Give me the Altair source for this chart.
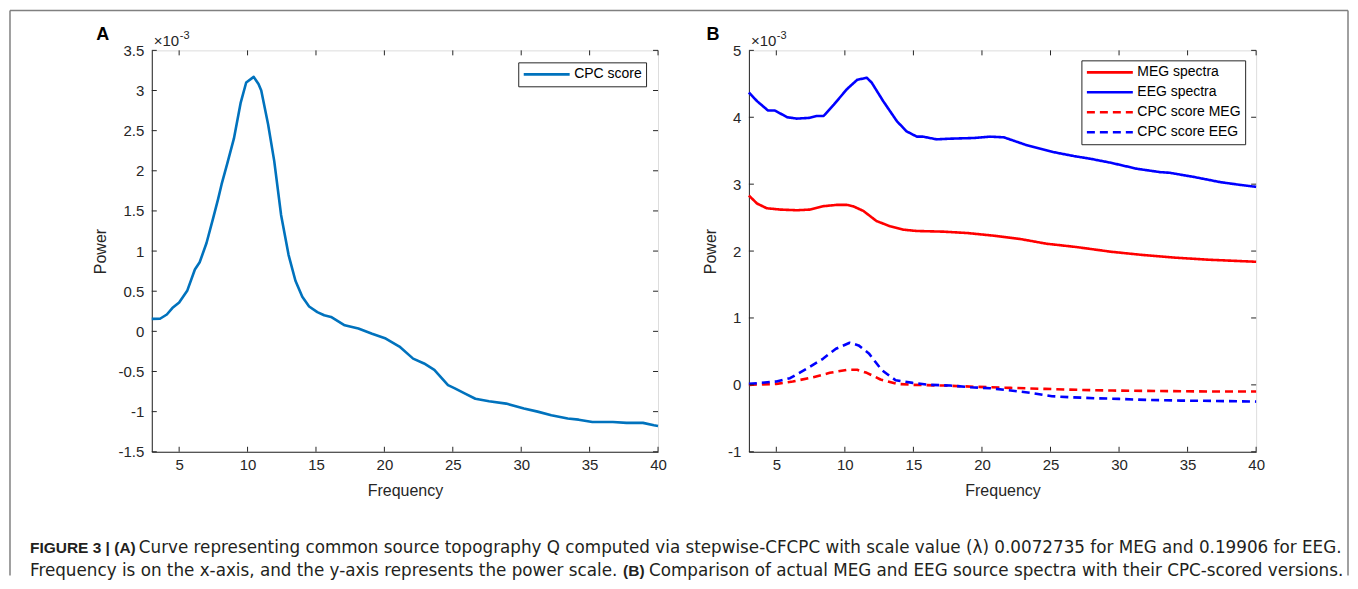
import altair as alt
import pandas as pd

# ---------------- data (values shown in units of 1e-3) ----------------
freq_a = [3.0, 3.6, 4.1, 4.5, 5.0, 5.6, 6.15, 6.5, 7.0, 7.5, 7.85, 8.1, 8.5, 9.0, 9.5,
          9.9, 10.45, 10.8, 11.0, 11.5, 11.95, 12.45, 13.0, 13.5, 14.0, 14.5, 15.1,
          15.6, 16.1, 17.1, 18.1, 19.1, 20.1, 21.1, 22.1, 22.9, 23.65, 24.65, 25.15,
          25.9, 26.65, 27.65, 28.9, 30.2, 31.2, 32.2, 33.4, 34.2, 35.2, 36.7, 37.7,
          38.9, 39.7, 40.0]
cpc_a = [0.155, 0.157, 0.21, 0.29, 0.36, 0.51, 0.77, 0.86, 1.1, 1.42, 1.65, 1.83, 2.08,
         2.4, 2.85, 3.1, 3.17, 3.08, 3.0, 2.58, 2.12, 1.45, 0.95, 0.63, 0.43, 0.31, 0.24,
         0.2, 0.18, 0.075, 0.035, -0.03, -0.09, -0.19, -0.34, -0.4, -0.48, -0.67, -0.71,
         -0.775, -0.84, -0.87, -0.9, -0.96, -1.0, -1.045, -1.085, -1.1, -1.13, -1.13,
         -1.14, -1.14, -1.17, -1.18]

freq_meg = [3.0, 3.6, 4.3, 5.3, 6.5, 7.45, 8.4, 9.4, 10.15, 10.6, 11.35, 12.3, 13.3,
            14.25, 15.25, 17.2, 18.9, 20.85, 22.8, 24.7, 26.9, 29.4, 31.8, 34.2, 36.6, 40.0]
meg_spectra = [2.83, 2.71, 2.64, 2.62, 2.61, 2.62, 2.67, 2.69, 2.69, 2.67, 2.6, 2.45, 2.37,
               2.32, 2.3, 2.29, 2.27, 2.23, 2.18, 2.11, 2.06, 1.99, 1.94, 1.9, 1.87, 1.84]

freq_eeg = [3.0, 3.6, 4.4, 4.9, 5.8, 6.5, 7.35, 7.95, 8.45, 9.2, 10.15, 10.9, 11.6, 11.95,
            12.8, 13.8, 14.5, 15.25, 15.7, 16.7, 17.7, 19.4, 20.6, 21.6, 23.3, 25.2, 26.7,
            27.9, 29.4, 31.3, 33.0, 33.7, 35.4, 37.4, 38.8, 40.0]
eeg_spectra = [4.37, 4.24, 4.1, 4.1, 4.0, 3.98, 3.99, 4.02, 4.02, 4.19, 4.42, 4.56, 4.59,
               4.52, 4.24, 3.94, 3.79, 3.71, 3.71, 3.67, 3.68, 3.69, 3.71, 3.7, 3.58, 3.48,
               3.42, 3.38, 3.32, 3.23, 3.18, 3.17, 3.11, 3.03, 2.99, 2.96]

freq_cpc_meg = [3.0, 5.0, 6.2, 7.7, 8.9, 10.15, 10.9, 11.6, 12.6, 13.8, 15.0, 17.2, 19.7,
                22.1, 24.6, 27.1, 29.5, 32.0, 34.5, 36.9, 40.0]
cpc_meg = [0.0, 0.015, 0.05, 0.115, 0.18, 0.225, 0.225, 0.18, 0.08, 0.015, 0.0, -0.01,
           -0.03, -0.045, -0.06, -0.075, -0.085, -0.09, -0.095, -0.1, -0.1]

freq_cpc_eeg = [3.0, 5.0, 6.0, 7.2, 8.4, 9.35, 10.35, 11.0, 11.75, 12.7, 13.7, 14.95, 16.2,
                17.7, 19.15, 20.6, 22.1, 23.6, 25.1, 26.5, 28.3, 30.0, 32.0, 34.5, 36.9, 40.0]
cpc_eeg = [0.015, 0.05, 0.1, 0.24, 0.39, 0.54, 0.63, 0.59, 0.47, 0.22, 0.07, 0.03, 0.0,
           -0.01, -0.035, -0.05, -0.085, -0.12, -0.17, -0.185, -0.2, -0.21, -0.225, -0.235,
           -0.24, -0.25]

series_b = ["MEG spectra", "EEG spectra", "CPC score MEG", "CPC score EEG"]
colors_b = ["#FF0000", "#0000FF", "#FF0000", "#0000FF"]
dashes_b = [[1, 0], [1, 0], [8, 5], [8, 5]]

x_ticks = [5, 10, 15, 20, 25, 30, 35, 40]
y_ticks_a = [-1.5, -1, -0.5, 0, 0.5, 1, 1.5, 2, 2.5, 3, 3.5]
y_ticks_b = [-1, 0, 1, 2, 3, 4, 5]

caption_1_bold = ["FIGURE 3 | (A)"]
caption_1 = ["Curve representing common source topography Q computed via stepwise-CFCPC "
             "with scale value (\u03bb) 0.0072735 for MEG and 0.19906 for EEG."]
caption_2a = ["Frequency is on the x-axis, and the y-axis represents the power scale."]
caption_2_bold = ["(B)"]
caption_2b = ["Comparison of actual MEG and EEG source spectra with their CPC-scored versions."]

# ---------------- style ----------------
FONT = "Liberation Sans"
CAPFONT = "DejaVu Sans"
AX = "#262626"
WA, HA = 507, 402
WB, HB = 508, 402
TICK = 5


def text_layer(values, x, y, size, weight="normal", align="left", baseline="alphabetic",
               color=AX, font=FONT):
    d = pd.DataFrame({"label": values})
    return alt.Chart(d).mark_text(font=font, fontSize=size, fontWeight=weight, align=align,
                                  baseline=baseline, color=color).encode(
        text="label:N", x=alt.value(x), y=alt.value(y))


def panel(df, y_domain, y_ticks, w, h, color_enc, dash_enc, label, label_x, title_pad):
    xs = alt.Scale(domain=[3, 40], nice=False, zero=False)
    ys = alt.Scale(domain=y_domain, nice=False, zero=False)
    x_axis = alt.Axis(values=x_ticks, ticks=False, tickSize=0, grid=False, domainColor=AX,
                      labelFont=FONT, labelFontSize=15, labelColor=AX, labelPadding=6,
                      labelFlush=False, title="Frequency", titleFont=FONT, titleFontSize=16,
                      titleFontWeight="normal", titleColor=AX, titlePadding=10)
    y_axis = alt.Axis(values=y_ticks, ticks=False, tickSize=0, grid=False, domainColor=AX,
                      labelFont=FONT, labelFontSize=15, labelColor=AX, labelPadding=8,
                      labelExpr="datum.value + ''",
                      title="Power", titleFont=FONT, titleFontSize=16,
                      titleFontWeight="normal", titleColor=AX, titlePadding=title_pad)
    enc = dict(x=alt.X("Frequency:Q", scale=xs, axis=x_axis),
               y=alt.Y("Power:Q", scale=ys, axis=y_axis),
               color=color_enc)
    if dash_enc is not None:
        enc["strokeDash"] = dash_enc
    lines = alt.Chart(df).mark_line(strokeWidth=2.6, strokeJoin="round").encode(**enc)

    xt = pd.DataFrame({"Frequency": x_ticks})
    yt = pd.DataFrame({"Power": y_ticks})
    xtick_bot = alt.Chart(xt).mark_rule(color=AX, strokeWidth=1).encode(
        x=alt.X("Frequency:Q", scale=xs, axis=x_axis), y=alt.value(h), y2=alt.value(h - TICK))
    xtick_top = alt.Chart(xt).mark_rule(color=AX, strokeWidth=1).encode(
        x=alt.X("Frequency:Q", scale=xs, axis=x_axis), y=alt.value(0), y2=alt.value(TICK))
    ytick_l = alt.Chart(yt).mark_rule(color=AX, strokeWidth=1).encode(
        y=alt.Y("Power:Q", scale=ys, axis=y_axis), x=alt.value(0), x2=alt.value(TICK))
    ytick_r = alt.Chart(yt).mark_rule(color=AX, strokeWidth=1).encode(
        y=alt.Y("Power:Q", scale=ys, axis=y_axis), x=alt.value(w), x2=alt.value(w - TICK))

    exp1 = text_layer(["\u00d710"], 2, -4, 15)
    exp2 = text_layer(["-3"], 28, -11, 11)
    lab = text_layer([label], label_x, -15, 18, weight="bold",
                     align="center", baseline="middle", color="black")
    return [lines, xtick_bot, xtick_top, ytick_l, ytick_r, exp1, exp2, lab]


leg_common = dict(title=None, orient="none", symbolType="stroke", symbolStrokeWidth=2.6,
                  symbolSize=2116, labelFont=FONT, labelFontSize=14, labelColor="black",
                  strokeColor=AX, fillColor="white", padding=4, labelOffset=3,
                  clipHeight=16, rowPadding=4)

# Panel A
df_a = pd.DataFrame({"Frequency": freq_a, "Power": cpc_a, "series": "CPC score"})
color_a = alt.Color("series:N", scale=alt.Scale(domain=["CPC score"], range=["#0072BD"]),
                    legend=alt.Legend(legendX=367, legendY=12, **leg_common))
layers_a = panel(df_a, [-1.5, 3.5], y_ticks_a, WA, HA, color_a, None, "A", -49, 10)

# frame and caption, positioned relative to panel A's plot area
frame_df = pd.DataFrame({"k": [0]})
FRAME = "#808080"
FR_L, FR_T, FR_R, FR_B = -142, -40, 1198, 526
frame_left = alt.Chart(frame_df).mark_rule(color=FRAME, strokeWidth=1.5).encode(
    x=alt.value(FR_L), x2=alt.value(FR_L), y=alt.value(FR_T), y2=alt.value(FR_B))
frame_top = alt.Chart(frame_df).mark_rule(color=FRAME, strokeWidth=1.5).encode(
    x=alt.value(FR_L), x2=alt.value(FR_R), y=alt.value(FR_T), y2=alt.value(FR_T))
frame_right = alt.Chart(frame_df).mark_rule(color=FRAME, strokeWidth=1.5).encode(
    x=alt.value(FR_R), x2=alt.value(FR_R), y=alt.value(FR_T), y2=alt.value(FR_B))

CAP = "#231f20"
cap = [
    text_layer(caption_1_bold, -122, 503, 15.5, weight="bold", color=CAP),
    text_layer(caption_1, -13, 503, 16.8, color=CAP, font=CAPFONT),
    text_layer(caption_2a, -122, 526, 16.8, color=CAP, font=CAPFONT),
    text_layer(caption_2_bold, 472, 526, 15.5, weight="bold", color=CAP),
    text_layer(caption_2b, 498, 526, 16.8, color=CAP, font=CAPFONT),
]

chart_a = alt.layer(*layers_a, frame_left, frame_top, frame_right, *cap).properties(
    width=WA, height=HA)

# Panel B
rows = []
for name, fx, fy in [("MEG spectra", freq_meg, meg_spectra),
                     ("EEG spectra", freq_eeg, eeg_spectra),
                     ("CPC score MEG", freq_cpc_meg, cpc_meg),
                     ("CPC score EEG", freq_cpc_eeg, cpc_eeg)]:
    for a, b in zip(fx, fy):
        rows.append({"Frequency": a, "Power": b, "series": name})
df_b = pd.DataFrame(rows)

leg_b = alt.Legend(legendX=333, legendY=10, **leg_common)
color_b = alt.Color("series:N", scale=alt.Scale(domain=series_b, range=colors_b), legend=leg_b)
dash_b = alt.StrokeDash("series:N", scale=alt.Scale(domain=series_b, range=dashes_b),
                        legend=leg_b)
layers_b = panel(df_b, [-1, 5], y_ticks_b, WB, HB, color_b, dash_b, "B", -36, 9)
chart_b = alt.layer(*layers_b).properties(width=WB, height=HB)

chart = alt.hconcat(chart_a, chart_b, spacing=91, bounds="flush").resolve_scale(
    x="independent", y="independent", color="independent", strokeDash="independent"
).resolve_legend(color="independent", strokeDash="independent").properties(
    padding={"left": 0, "top": 0, "right": 0, "bottom": 0}
).configure_view(stroke=AX, strokeWidth=1).configure(font=FONT)

chart.save("out.html", embed_options={"renderer": "svg", "actions": False})
